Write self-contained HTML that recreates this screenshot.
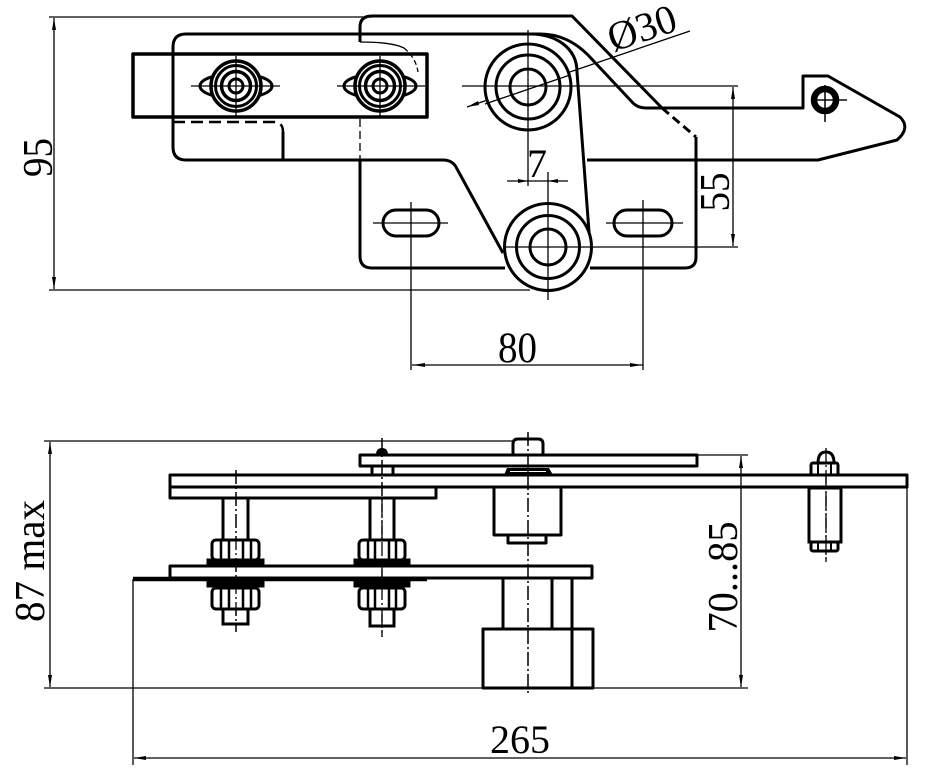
<!DOCTYPE html>
<html><head><meta charset="utf-8"><style>
html,body{margin:0;padding:0;background:#fff;}
svg{display:block;}
text{font-family:"Liberation Serif",serif;fill:#000;}
</style></head><body>
<svg width="929" height="768" viewBox="0 0 929 768" xmlns="http://www.w3.org/2000/svg">
<rect width="929" height="768" fill="#fff"/>

<!-- ================= TOP VIEW ================= -->
<g fill="none" stroke="#000" stroke-width="1.3">
  <line x1="49" y1="17" x2="372" y2="17"/>
  <line x1="49" y1="290" x2="530" y2="290"/>
  <line x1="54" y1="18" x2="54" y2="289"/>
  <line x1="462" y1="86" x2="738" y2="86"/>
  <line x1="505" y1="247" x2="738" y2="247"/>
  <line x1="528" y1="30" x2="528" y2="186"/>
  <line x1="548" y1="172" x2="548" y2="300"/>
  <line x1="507" y1="181" x2="568" y2="181"/>
  <line x1="733" y1="87" x2="733" y2="246"/>
  <line x1="467" y1="107" x2="690" y2="31"/>
  <line x1="373" y1="223" x2="448" y2="223"/>
  <line x1="411" y1="202" x2="411" y2="370"/>
  <line x1="606" y1="223" x2="683" y2="223"/>
  <line x1="643" y1="200" x2="643" y2="370"/>
  <line x1="412" y1="365" x2="643" y2="365"/>
  <line x1="812" y1="100" x2="847" y2="100"/>
  <line x1="825" y1="85" x2="825" y2="122"/>
  <line x1="360" y1="119" x2="360" y2="160" stroke-dasharray="8 4"/>
  <path d="M360,42 Q392,42 404,48"/>
  <path d="M404,48 Q416,58 418,72" stroke-dasharray="5 3"/>
</g>

<g fill="#000" stroke="none">
  <polygon points="54,18 52,30 56,30"/>
  <polygon points="54,289 52,277 56,277"/>
  <polygon points="733,87 731,99 735,99"/>
  <polygon points="733,246 731,234 735,234"/>
  <polygon points="413,365 425,363 425,367"/>
  <polygon points="642,365 630,363 630,367"/>
  <polygon points="528,181 518,179 518,183"/>
  <polygon points="548,181 558,179 558,183"/>
  <polygon points="467,107 478,101 479,105"/>
</g>

<g fill="none" stroke="#000" stroke-width="3" stroke-linejoin="round">
  <path d="M360,42 L360,27 Q360,16 372,16 L572,16 L662,108"/>
  <path d="M662,108 L696,137" stroke-dasharray="9 5"/>
  <path d="M696,137 L696,257 Q696,268 685,268 L590,268"/>
  <path d="M505,268 L372,268 Q360,268 360,256 L360,160"/>
  <path d="M443,160 L186,160 Q173,160 173,147 L173,47 Q173,34 186,34 L540,34"/>
  <path d="M443,160 Q452,160 456,167 L503,253"/>
  <path d="M173,122 L274,122 Q283,122 283,132" stroke-dasharray="12 6" stroke-width="2.5"/>
  <path d="M283,132 L283,160"/>
  <path d="M530,34 C556,34 577,48 577,72 L590,245"/>
  <path d="M540,34 C560,34 575,42 588,55 L633,103 Q638,108 646,108 L803,108 L803,76 L828,76 L900,117 Q911,128 897,140 L818,160 L587,160"/>
  <rect x="133" y="54" width="294" height="63" stroke-width="3.5"/>
  <rect x="383" y="210" width="56" height="26" rx="13"/>
  <rect x="614" y="210" width="58" height="26" rx="13"/>
</g>

<g fill="none" stroke="#000" stroke-width="3">
  <circle cx="528" cy="87" r="43" fill="#fff"/>
  <circle cx="528" cy="87" r="32"/>
  <circle cx="528" cy="87" r="18"/>
  <circle cx="548" cy="247" r="43.5" fill="#fff"/>
  <circle cx="548" cy="247" r="31.5"/>
  <circle cx="548" cy="247" r="18"/>
  <circle cx="825" cy="100" r="11" stroke-width="6.5"/>
</g>
<g stroke="#000" stroke-width="1.3">
  <line x1="528" y1="44" x2="528" y2="130"/>
  <line x1="486" y1="86" x2="570" y2="86"/>
  <line x1="548" y1="204" x2="548" y2="290"/>
  <line x1="505" y1="247" x2="592" y2="247"/>
  <line x1="485" y1="104" x2="570" y2="75"/>
  <line x1="812" y1="100" x2="847" y2="100"/>
  <line x1="825" y1="85" x2="825" y2="122"/>
</g>

<g fill="#fff" stroke="#000">
  <ellipse cx="236" cy="86" rx="36" ry="12.5" stroke-width="3"/>
  <circle cx="236" cy="86" r="25" stroke-width="3.5"/>
  <circle cx="236" cy="86" r="20.5" stroke-width="3" fill="none"/>
  <circle cx="236" cy="86" r="14.5" stroke-width="3.5" fill="none"/>
  <circle cx="236" cy="86" r="7" stroke-width="3" fill="none"/>
  <ellipse cx="380" cy="86" rx="36" ry="12.5" stroke-width="3"/>
  <circle cx="380" cy="86" r="25" stroke-width="3.5"/>
  <circle cx="380" cy="86" r="20.5" stroke-width="3" fill="none"/>
  <circle cx="380" cy="86" r="14.5" stroke-width="3.5" fill="none"/>
  <circle cx="380" cy="86" r="7" stroke-width="3" fill="none"/>
</g>
<g stroke="#000" stroke-width="1.3">
  <line x1="191" y1="86" x2="280" y2="86"/>
  <line x1="236" y1="56" x2="236" y2="117"/>
  <line x1="337" y1="86" x2="425" y2="86"/>
  <line x1="380" y1="56" x2="380" y2="117"/>
</g>

<text font-size="42" text-anchor="middle" textLength="39" lengthAdjust="spacingAndGlyphs" transform="translate(52,157.5) rotate(-90)">95</text>
<text font-size="42" text-anchor="middle" textLength="39" lengthAdjust="spacingAndGlyphs" transform="translate(729,192) rotate(-90)">55</text>
<text x="537" y="177" font-size="40" text-anchor="middle">7</text>
<text x="517.5" y="362" font-size="43" text-anchor="middle" textLength="39" lengthAdjust="spacingAndGlyphs">80</text>
<text font-size="41" textLength="70" lengthAdjust="spacingAndGlyphs" transform="translate(613,52) rotate(-18.5)">Ø30</text>

<!-- ================= BOTTOM VIEW ================= -->
<g fill="none" stroke="#000" stroke-width="1.3">
  <line x1="44" y1="441" x2="514" y2="441"/>
  <line x1="44" y1="688" x2="748" y2="688"/>
  <line x1="50" y1="442" x2="50" y2="687"/>
  <line x1="133" y1="579" x2="133" y2="765"/>
  <line x1="907" y1="488" x2="907" y2="765"/>
  <line x1="134" y1="758" x2="906" y2="758"/>
  <line x1="741" y1="456" x2="741" y2="687"/>
  <line x1="697" y1="455" x2="748" y2="455"/>
  <g stroke-dasharray="14 3 2 3">
    <line x1="236" y1="470" x2="236" y2="632"/>
    <line x1="382" y1="438" x2="382" y2="637"/>
    <line x1="528" y1="432" x2="528" y2="695"/>
    <line x1="826" y1="452" x2="826" y2="562"/>
  </g>
</g>
<g fill="#000" stroke="none">
  <polygon points="50,442 48,454 52,454"/>
  <polygon points="50,687 48,675 52,675"/>
  <polygon points="741,456 739,468 743,468"/>
  <polygon points="741,687 739,675 743,675"/>
  <polygon points="134,758 146,756 146,760"/>
  <polygon points="906,758 894,756 894,760"/>
</g>

<g fill="none" stroke="#000" stroke-width="3" stroke-linejoin="round">
  <line x1="133" y1="579" x2="427" y2="579" stroke-width="4.5"/>
  <rect x="170" y="566" width="422" height="12"/>
  <rect x="170" y="475" width="737" height="12"/>
  <rect x="170" y="487" width="266" height="11"/>
  <rect x="360" y="455" width="337" height="11"/>
  <path d="M513,455 L513,444 Q513,439 518,439 L538,439 Q543,439 543,444 L543,455"/>
  <rect x="372" y="466" width="21" height="9"/>
  <rect x="494" y="487" width="67" height="48"/>
  <rect x="508" y="535" width="38" height="8"/>
  <rect x="503" y="578" width="69" height="51"/>
  <line x1="552" y1="578" x2="552" y2="629"/>
  <rect x="483" y="629" width="110" height="59"/>
  <line x1="572" y1="629" x2="572" y2="688"/>
</g>
<path d="M504,475 L507,468 L549,468 L553,475 Z" fill="#000"/>
<line x1="510" y1="471.5" x2="546" y2="471.5" stroke="#fff" stroke-width="1"/>
<line x1="528" y1="432" x2="528" y2="695" stroke="#000" stroke-width="1.3" stroke-dasharray="14 3 2 3"/>
<line x1="382" y1="438" x2="382" y2="498" stroke="#000" stroke-width="1.3" stroke-dasharray="14 3 2 3"/>
<path d="M376,455 Q376,448 382,448 Q388,448 388,455 Z" fill="#000"/>

<g fill="none" stroke="#000" stroke-width="3">
  <rect x="223" y="498" width="25" height="42"/>
  <rect x="212" y="540" width="47" height="20" rx="4" fill="#fff"/>
  <line x1="221" y1="541" x2="221" y2="559" stroke-width="2.5"/>
  <line x1="229" y1="541" x2="229" y2="559" stroke-width="2.5"/>
  <line x1="243" y1="541" x2="243" y2="559" stroke-width="2.5"/>
  <line x1="251" y1="541" x2="251" y2="559" stroke-width="2.5"/>
  <rect x="208" y="560" width="55" height="5" fill="#000"/>
  <rect x="208" y="580" width="55" height="6" fill="#000"/>
  <rect x="212" y="588" width="47" height="21" rx="4" fill="#fff"/>
  <line x1="221" y1="589" x2="221" y2="608" stroke-width="2.5"/>
  <line x1="229" y1="589" x2="229" y2="608" stroke-width="2.5"/>
  <line x1="243" y1="589" x2="243" y2="608" stroke-width="2.5"/>
  <line x1="251" y1="589" x2="251" y2="608" stroke-width="2.5"/>
  <rect x="223" y="609" width="25" height="15"/>
  <line x1="236" y1="470" x2="236" y2="632" stroke-width="1.3" stroke-dasharray="14 3 2 3"/>
</g>
<g fill="none" stroke="#000" stroke-width="3">
  <rect x="370" y="498" width="24" height="42"/>
  <rect x="359" y="540" width="46" height="20" rx="4" fill="#fff"/>
  <line x1="368" y1="541" x2="368" y2="559" stroke-width="2.5"/>
  <line x1="375" y1="541" x2="375" y2="559" stroke-width="2.5"/>
  <line x1="389" y1="541" x2="389" y2="559" stroke-width="2.5"/>
  <line x1="396" y1="541" x2="396" y2="559" stroke-width="2.5"/>
  <rect x="355" y="560" width="54" height="5" fill="#000"/>
  <rect x="355" y="580" width="54" height="6" fill="#000"/>
  <rect x="359" y="588" width="46" height="21" rx="4" fill="#fff"/>
  <line x1="368" y1="589" x2="368" y2="608" stroke-width="2.5"/>
  <line x1="375" y1="589" x2="375" y2="608" stroke-width="2.5"/>
  <line x1="389" y1="589" x2="389" y2="608" stroke-width="2.5"/>
  <line x1="396" y1="589" x2="396" y2="608" stroke-width="2.5"/>
  <rect x="370" y="609" width="24" height="17"/>
  <line x1="382" y1="498" x2="382" y2="637" stroke-width="1.3" stroke-dasharray="14 3 2 3"/>
</g>

<g fill="none" stroke="#000" stroke-width="3">
  <path d="M818,463 Q818,452 826,452 Q834,452 834,463" fill="#fff"/>
  <rect x="811" y="463" width="27" height="12" rx="2" fill="#fff"/>
  <line x1="818" y1="464" x2="818" y2="474" stroke-width="2"/>
  <line x1="831" y1="464" x2="831" y2="474" stroke-width="2"/>
  <rect x="809" y="488" width="32" height="54"/>
  <rect x="811" y="542" width="27" height="9" rx="2" fill="#fff"/>
  <line x1="818" y1="543" x2="818" y2="550" stroke-width="2"/>
  <line x1="831" y1="543" x2="831" y2="550" stroke-width="2"/>
  <line x1="826" y1="448" x2="826" y2="562" stroke-width="1.3" stroke-dasharray="14 3 2 3"/>
</g>

<text font-size="42" text-anchor="middle" textLength="122" lengthAdjust="spacingAndGlyphs" transform="translate(44,561) rotate(-90)">87 max</text>
<text font-size="42" text-anchor="middle" textLength="111" lengthAdjust="spacingAndGlyphs" transform="translate(737,577) rotate(-90)">70...85</text>
<text x="520" y="753" font-size="40" text-anchor="middle" textLength="60" lengthAdjust="spacingAndGlyphs">265</text>
</svg>
</body></html>
